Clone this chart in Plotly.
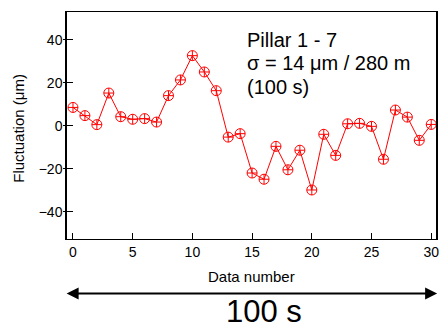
import plotly.graph_objects as go

data_number = list(range(31))
fluctuation = [8.5, 4.7, 0.5, 15.2, 4.2, 3.0, 3.3, 1.7, 14.0, 21.3, 32.6, 25.0, 16.3,
               -5.3, -3.7, -22.0, -24.9, -9.6, -20.5, -11.4, -29.9, -4.0, -13.8,
               0.9, 1.1, -0.3, -15.6, 7.3, 4.0, -6.8, 0.6]
x_ticks = [0, 5, 10, 15, 20, 25, 30]
y_ticks = [-40, -20, 0, 20, 40]
info_lines = ["Pillar 1 - 7", "σ = 14 μm / 280 m", "(100 s)"]

FONT = "Liberation Sans, Arial, sans-serif"

fig = go.Figure()
fig.add_trace(go.Scatter(
    x=data_number, y=fluctuation, mode="lines+markers",
    line=dict(color="#ff0000", width=1),
    marker=dict(symbol="circle-cross-open", size=10, color="#ff0000",
                line=dict(width=1, color="#ff0000")),
    showlegend=False))
# invisible trace for outer tick stubs
fig.add_trace(go.Scatter(x=[None], y=[None], yaxis="y2", showlegend=False))

fig.update_layout(
    width=440, height=329,
    margin=dict(l=67, r=2, t=12, b=90),
    paper_bgcolor="white", plot_bgcolor="white",
    font=dict(family=FONT, color="black"),
    xaxis=dict(range=[-0.5, 30.4], tickvals=x_ticks, ticks="inside", ticklen=6,
               tickcolor="black", showgrid=False, zeroline=False,
               showline=True, linecolor="black", linewidth=1, mirror=True,
               tickfont=dict(size=14, family=FONT)),
    yaxis=dict(range=[-52.7, 52.9], tickvals=y_ticks, ticks="inside", ticklen=6,
               tickcolor="black", showgrid=False, zeroline=False,
               showline=True, linecolor="black", linewidth=1.5, mirror=True,
               tickfont=dict(size=14, family=FONT)),
    yaxis2=dict(range=[-52.7, 52.9], tickvals=y_ticks, ticks="outside", ticklen=3,
                tickcolor="black", showticklabels=False, showgrid=False,
                zeroline=False, overlaying="y", side="left", showline=False),
)

line_y = [0.877, 0.774, 0.670]
for txt, yy in zip(info_lines, line_y):
    fig.add_annotation(text=txt, xref="paper", yref="paper", x=0.482, y=yy,
                       xanchor="left", yanchor="middle", align="left", showarrow=False,
                       font=dict(size=20, family=FONT))
fig.add_annotation(text="Fluctuation (μm)", textangle=-90,
                   xref="paper", yref="paper", x=-0.132, y=0.487,
                   xanchor="center", yanchor="middle", showarrow=False,
                   font=dict(size=15, family=FONT))
fig.add_annotation(text="Data number", xref="paper", yref="paper",
                   x=0.5, y=-0.167, xanchor="center", yanchor="middle",
                   showarrow=False, font=dict(size=15, family=FONT))
fig.add_annotation(text="", xref="paper", yref="paper",
                   x=1.003, y=-0.24, ax=-372, ay=0,
                   showarrow=True, arrowside="end+start", arrowhead=2,
                   startarrowhead=2, arrowsize=1.2, startarrowsize=1.2,
                   arrowwidth=2, arrowcolor="black")
fig.add_annotation(text="100 s", xref="paper", yref="paper",
                   x=0.535, y=-0.318, xanchor="center", yanchor="middle",
                   showarrow=False, font=dict(size=31, family=FONT))

fig.write_html("out.html", config={"displayModeBar": False},
               post_script="document.body.style.margin='0';document.body.style.overflow='hidden';")
